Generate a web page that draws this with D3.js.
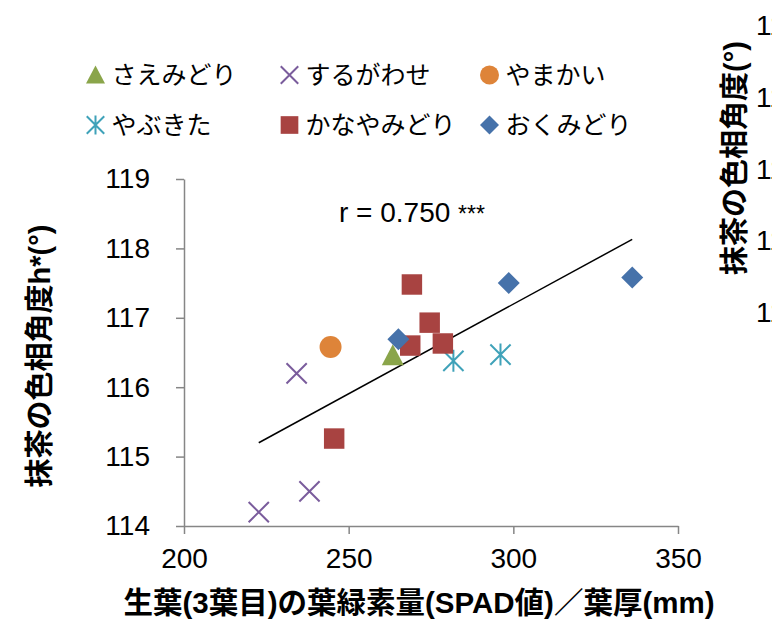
<!DOCTYPE html>
<html>
<head>
<meta charset="utf-8">
<script src="https://cdn.jsdelivr.net/npm/d3@7"></script>
<style>
  body { margin: 0; background: #fff; }
  text { font-family: "Liberation Sans", Arial, "Noto Sans CJK JP", sans-serif; }
</style>
</head>
<body>
<div id="chart"></div>
<script>
// series names, colours, marker kinds
var varieties = ["さえみどり", "するがわせ", "やまかい", "やぶきた", "かなやみどり", "おくみどり"];
var colors = ["#8aa54a", "#7a5c9c", "#de8439", "#3fa2b9", "#a84341", "#4672aa"];
var shapes = ["triangle", "x", "circle", "asterisk", "square", "diamond"];

// x: SPAD / leaf thickness, y: hue angle h*
var saeX = [263.4], saeY = [116.46];
var surugaX = [222.7, 238.1, 234.2], surugaY = [114.20, 114.50, 116.20];
var yamakaiX = [244.5], yamakaiY = [116.58];
var yabukitaX = [281.8, 296.1], yabukitaY = [116.38, 116.47];
var kanayaX = [245.6, 269.2, 274.6, 268.7, 278.6], kanayaY = [115.26, 117.48, 116.93, 116.60, 116.63];
var okuX = [265.1, 298.6, 336.1], okuY = [116.69, 117.50, 117.58];

var seriesX = [saeX, surugaX, yamakaiX, yabukitaX, kanayaX, okuX];
var seriesY = [saeY, surugaY, yamakaiY, yabukitaY, kanayaY, okuY];

// trend line end points
var trendX = [222.7, 336.1];
var trendY = [115.20, 118.13];

var xTicks = [200, 250, 300, 350];
var yTicks = [114, 115, 116, 117, 118, 119];
var rightTicks = [115, 116, 117, 118, 119]; // clipped axis of the next chart

var W = 776, H = 621;
var svg = d3.select("#chart").append("svg")
  .attr("width", W).attr("height", H);
svg.append("rect").attr("width", W).attr("height", H).attr("fill", "#fff");

var x = d3.scaleLinear().domain([200, 350]).range([184, 678]);
var y = d3.scaleLinear().domain([114, 119]).range([526, 179]);

// marker path, centred on 0,0
function marker(kind, s) {
  var p = d3.path();
  var h = s / 2;
  if (kind == "triangle") {
    p.moveTo(0, -h); p.lineTo(h, h * 0.9); p.lineTo(-h, h * 0.9); p.closePath();
  } else if (kind == "square") {
    p.rect(-h * 0.93, -h * 0.93, s * 0.93, s * 0.93);
  } else if (kind == "diamond") {
    p.moveTo(0, -h); p.lineTo(h, 0); p.lineTo(0, h); p.lineTo(-h, 0); p.closePath();
  } else if (kind == "circle") {
    p.arc(0, 0, h, 0, 2 * Math.PI);
  } else if (kind == "x") {
    var a = h * 0.92;
    p.moveTo(-a, -a); p.lineTo(a, a); p.moveTo(a, -a); p.lineTo(-a, a);
  } else if (kind == "asterisk") {
    var b = h * 0.92;
    p.moveTo(-b, -b); p.lineTo(b, b); p.moveTo(b, -b); p.lineTo(-b, b);
    p.moveTo(0, -h); p.lineTo(0, h);
  }
  return p.toString();
}
function isStroke(kind) { return kind == "x" || kind == "asterisk"; }

function drawMarker(g, kind, color, s) {
  g.append("path")
    .attr("d", marker(kind, s))
    .attr("fill", isStroke(kind) ? "none" : color)
    .attr("stroke", isStroke(kind) ? color : "none")
    .attr("stroke-width", 2);
}

// axes
var yAxis = svg.append("g")
  .attr("transform", "translate(184,0)")
  .call(d3.axisLeft(y).tickValues(yTicks).tickFormat(d3.format("d"))
    .tickSize(8).tickSizeOuter(0).tickPadding(26));
var xAxis = svg.append("g")
  .attr("transform", "translate(0,526)")
  .call(d3.axisBottom(x).tickValues(xTicks).tickFormat(d3.format("d"))
    .tickSize(8).tickSizeOuter(0).tickPadding(14));
[xAxis, yAxis].forEach(function(a) {
  a.select(".domain").attr("stroke", "#868686").attr("stroke-width", 1.5);
  a.selectAll(".tick line").attr("stroke", "#868686").attr("stroke-width", 1.5);
  a.selectAll(".tick text").attr("fill", "#000")
    .style("font-family", "'Liberation Sans', Arial, sans-serif")
    .style("font-size", "28px");
});

// trend line
svg.append("line")
  .attr("x1", x(trendX[0])).attr("y1", y(trendY[0]))
  .attr("x2", x(trendX[1])).attr("y2", y(trendY[1]))
  .attr("stroke", "#000").attr("stroke-width", 1.5);

// points
for (var i = 0; i < varieties.length; i++) {
  for (var k = 0; k < seriesX[i].length; k++) {
    var g = svg.append("g")
      .attr("transform", "translate(" + x(seriesX[i][k]) + "," + y(seriesY[i][k]) + ")");
    drawMarker(g, shapes[i], colors[i], 22);
  }
}

// correlation label
var rt = svg.append("text")
  .attr("x", 339).attr("y", 222)
  .style("font-size", "28px").attr("fill", "#000");
rt.append("tspan").text("r = 0.750 ");
rt.append("tspan").style("font-size", "23px").text("***");

// legend
var legCols = [95.5, 289.5, 489.5];
var legRows = [75, 125];
for (var j = 0; j < varieties.length; j++) {
  var cx = legCols[j % 3], cy = legRows[Math.floor(j / 3)];
  var lg = svg.append("g").attr("transform", "translate(" + cx + "," + cy + ")");
  drawMarker(lg, shapes[j], colors[j], 19);
  svg.append("text")
    .attr("x", cx + 16).attr("y", cy + 9)
    .style("font-family", "'Noto Sans CJK JP', sans-serif")
    .style("font-size", "25px")
    .attr("fill", "#000")
    .text(varieties[j]);
}

// axis titles
svg.append("text")
  .attr("transform", "translate(50,356) rotate(-90)")
  .attr("text-anchor", "middle")
  .style("font-size", "29px").style("font-weight", "bold")
  .text("抹茶の色相角度h*(°)");
svg.append("text")
  .attr("x", 419).attr("y", 613)
  .attr("text-anchor", "middle")
  .style("font-size", "29.5px").style("font-weight", "bold")
  .text("生葉(3葉目)の葉緑素量(SPAD値)／葉厚(mm)");

// clipped edge of the neighbouring chart
svg.append("clipPath").attr("id", "edge")
  .append("rect").attr("x", 0).attr("y", 0).attr("width", 772).attr("height", H);
var edge = svg.append("g").attr("clip-path", "url(#edge)");
var yr = d3.scaleLinear().domain([115, 119]).range([312, 25]);
edge.selectAll("text.rt").data(rightTicks).enter().append("text")
  .attr("class", "rt")
  .attr("x", 756).attr("y", function(d) { return yr(d) + 10; })
  .style("font-size", "28px").attr("fill", "#000")
  .text(function(d) { return d; });
svg.append("text")
  .attr("transform", "translate(745,158) rotate(-90)")
  .attr("text-anchor", "middle")
  .style("font-size", "29px").style("font-weight", "bold")
  .text("抹茶の色相角度(°)");
</script>
</body>
</html>
